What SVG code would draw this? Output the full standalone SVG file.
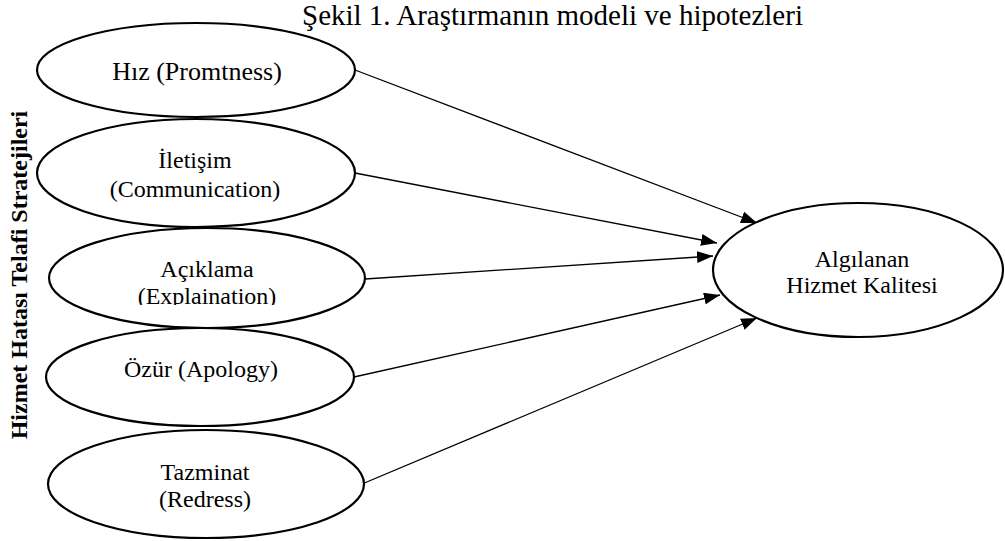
<svg xmlns="http://www.w3.org/2000/svg" width="1005" height="541" viewBox="0 0 1005 541">
  <style>
    .node { fill: #fff; stroke: #000; stroke-width: 2.2; }
    .lbl { font-family: "Liberation Serif", "Times New Roman", serif; font-size: 24px; fill: #000; text-anchor: middle; }
    .big { font-size: 26px; }
    .title { font-family: "Liberation Serif", "Times New Roman", serif; font-size: 29px; fill: #000; }
    .side { font-family: "Liberation Serif", "Times New Roman", serif; font-size: 24px; font-weight: bold; fill: #000; text-anchor: middle; }
    .edge { stroke: #000; stroke-width: 1.3; fill: none; marker-end: url(#arrow); }
  </style>
  <defs>
    <marker id="arrow" viewBox="0 0 16 12" refX="16" refY="6" markerWidth="16" markerHeight="12" markerUnits="userSpaceOnUse" orient="auto">
      <path d="M0,0 L16,6 L0,12 Z" fill="#000"/>
    </marker>
    <!-- lower edge of the "(Explaination)" line is cut off -->
    <clipPath id="clipExpl">
      <rect x="0" y="0" width="1005" height="305"/>
    </clipPath>
  </defs>
  <rect width="1005" height="541" fill="#fff"/>

  <text class="title" x="302" y="25">Şekil 1. Araştırmanın modeli ve hipotezleri</text>

  <text class="side" transform="translate(27,275) rotate(-90)">Hizmet Hatası Telafi Stratejileri</text>

  <g id="connectors">
    <line class="edge" x1="355" y1="70" x2="757" y2="223"/>
    <line class="edge" x1="355" y1="173" x2="717" y2="243"/>
    <line class="edge" x1="365" y1="279" x2="713" y2="256"/>
    <line class="edge" x1="354" y1="377" x2="720" y2="295"/>
    <line class="edge" x1="362" y1="484" x2="757" y2="318"/>
  </g>

  <g id="hiz">
    <ellipse class="node" cx="196" cy="70" rx="159" ry="47"/>
    <text class="lbl big" x="197" y="80">Hız (Promtness)</text>
  </g>
  <g id="iletisim">
    <ellipse class="node" cx="196" cy="173" rx="159" ry="54"/>
    <text class="lbl" x="195" y="168">İletişim</text>
    <text class="lbl" x="195" y="197">(Communication)</text>
  </g>
  <g id="aciklama">
    <ellipse class="node" cx="207" cy="278" rx="158" ry="50"/>
    <text class="lbl" x="207" y="277">Açıklama</text>
    <text class="lbl" x="207" y="304" clip-path="url(#clipExpl)">(Explaination)</text>
  </g>
  <g id="ozur">
    <ellipse class="node" cx="200" cy="377" rx="154" ry="49"/>
    <text class="lbl" x="201" y="377">Özür (Apology)</text>
  </g>
  <g id="tazminat">
    <ellipse class="node" cx="206" cy="484" rx="158" ry="54"/>
    <text class="lbl" x="205" y="480">Tazminat</text>
    <text class="lbl" x="205" y="507">(Redress)</text>
  </g>
  <g id="algilanan">
    <ellipse class="node" cx="858" cy="270" rx="145" ry="67"/>
    <text class="lbl" x="862" y="267">Algılanan</text>
    <text class="lbl" x="862" y="293">Hizmet Kalitesi</text>
  </g>
</svg>
